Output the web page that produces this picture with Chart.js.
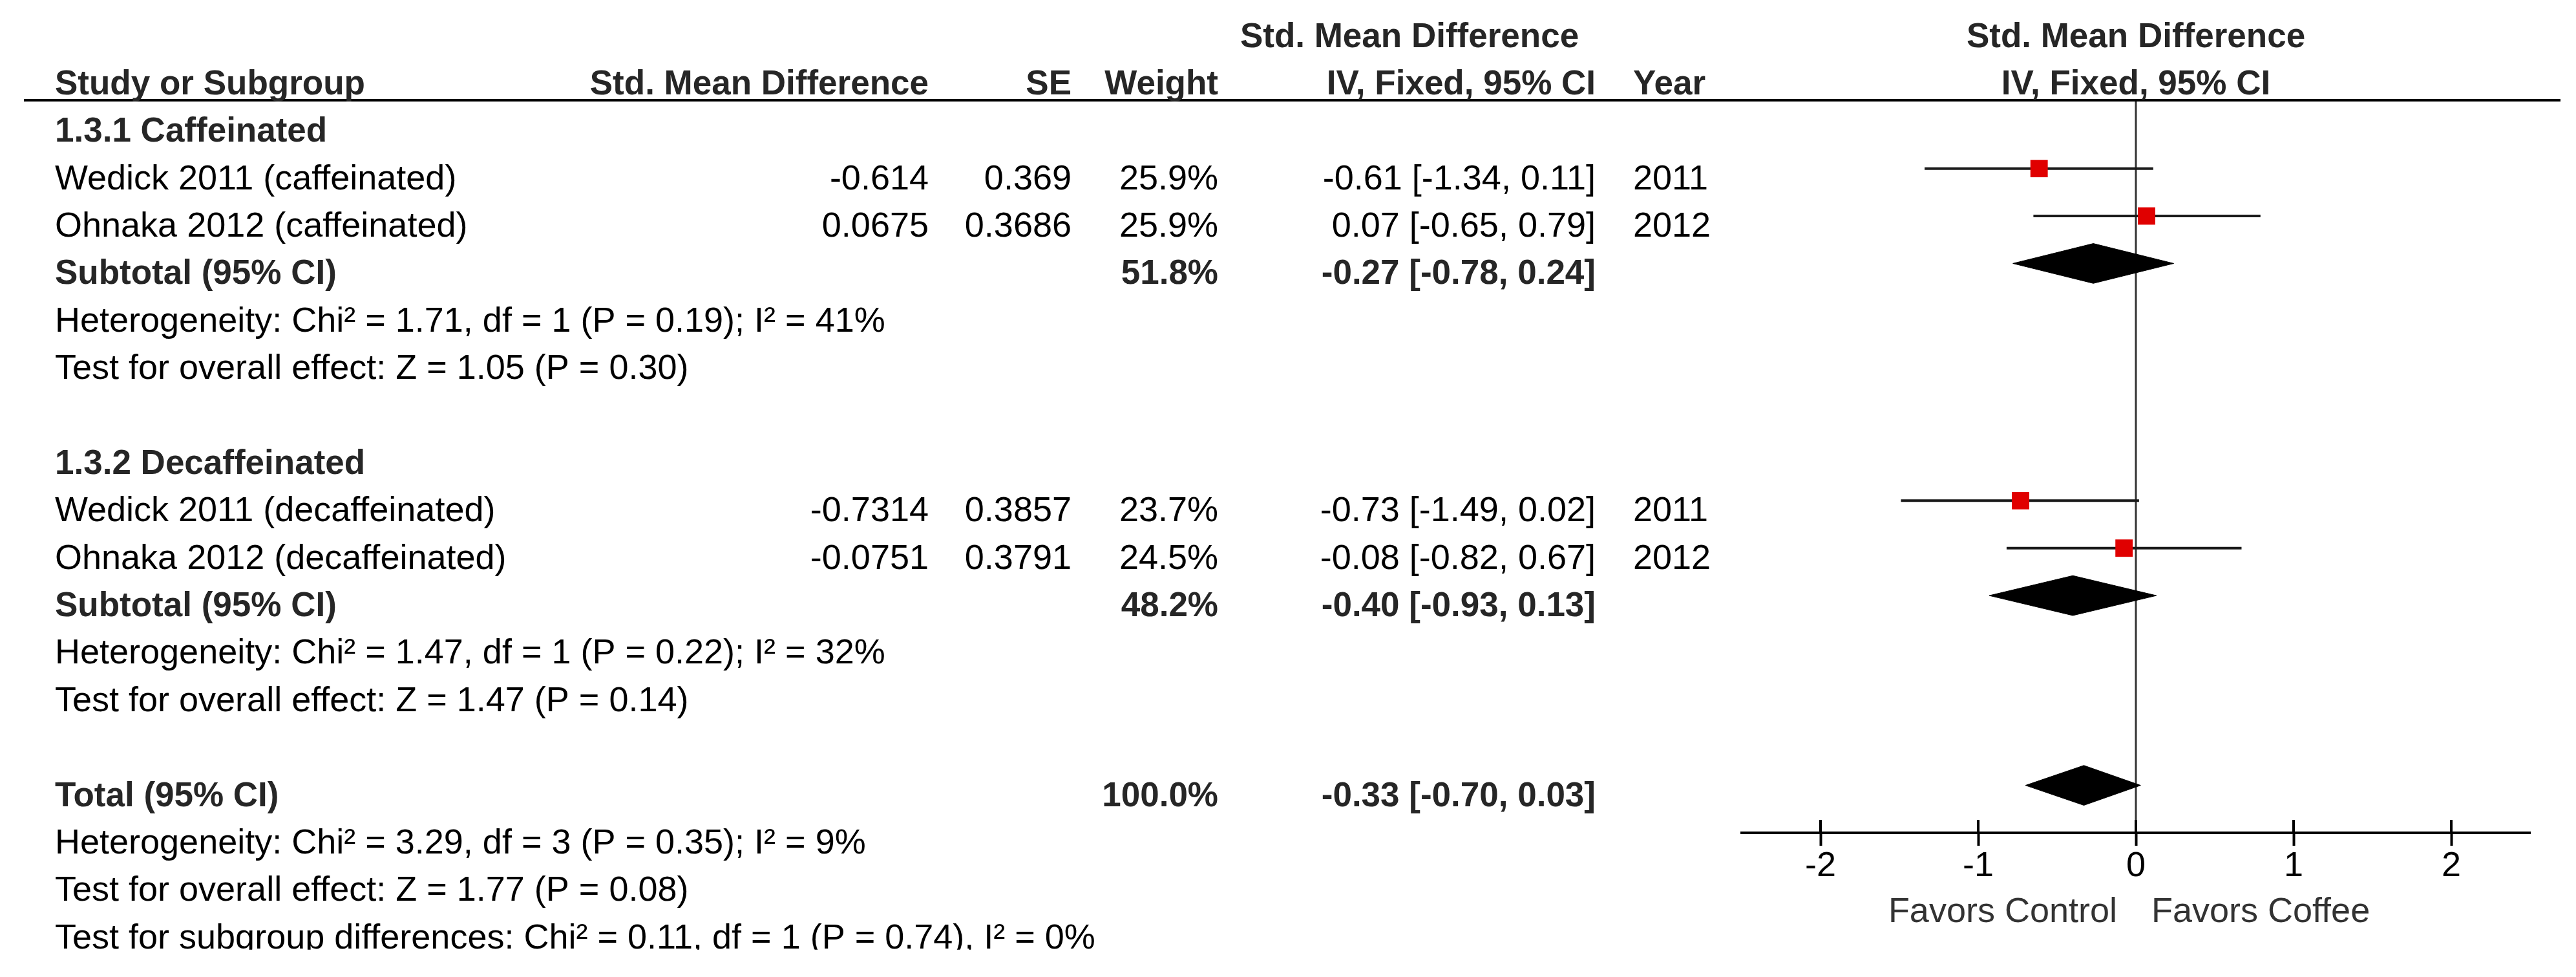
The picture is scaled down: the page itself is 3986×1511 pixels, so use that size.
<!DOCTYPE html>
<html>
<head>
<meta charset="utf-8">
<script src="https://cdn.jsdelivr.net/npm/chart.js@4.4.1/dist/chart.umd.min.js"></script>
<style>
  html, body { margin: 0; padding: 0; background: #fff; }
  canvas { display: block; }
</style>
</head>
<body>
<canvas id="forest" width="3986" height="1511"></canvas>
<script>
// values
const groupNames = ["1.3.1 Caffeinated", "1.3.2 Decaffeinated"];
const studyNames = ["Wedick 2011 (caffeinated)", "Ohnaka 2012 (caffeinated)", "Wedick 2011 (decaffeinated)", "Ohnaka 2012 (decaffeinated)"];
const studyGroup = [0, 0, 1, 1];
const smd = [-0.614, 0.0675, -0.7314, -0.0751];
const se = [0.369, 0.3686, 0.3857, 0.3791];
const weight = [25.9, 25.9, 23.7, 24.5];
const ciLow = [-1.34, -0.65, -1.49, -0.82];
const ciHigh = [0.11, 0.79, 0.02, 0.67];
const years = [2011, 2012, 2011, 2012];

const subWeight = [51.8, 48.2];
const subEst = [-0.27, -0.40];
const subLow = [-0.78, -0.93];
const subHigh = [0.24, 0.13];
const subHet = ["Heterogeneity: Chi² = 1.71, df = 1 (P = 0.19); I² = 41%", "Heterogeneity: Chi² = 1.47, df = 1 (P = 0.22); I² = 32%"];
const subTest = ["Test for overall effect: Z = 1.05 (P = 0.30)", "Test for overall effect: Z = 1.47 (P = 0.14)"];

const totalWeight = 100.0;
const totalEst = -0.33, totalLow = -0.70, totalHigh = 0.03;
const totalHet = "Heterogeneity: Chi² = 3.29, df = 3 (P = 0.35); I² = 9%";
const totalTest = "Test for overall effect: Z = 1.77 (P = 0.08)";
const subgroupTest = "Test for subgroup differences: Chi² = 0.11, df = 1 (P = 0.74), I² = 0%";

const xTicks = [-2, -1, 0, 1, 2];
const xMin = -2.5, xMax = 2.5;
const leftLabel = "Favors Control", rightLabel = "Favors Coffee";


const FONT = '"Liberation Sans", Arial, sans-serif';
const col = {
  study: { x: 85, align: "left" },
  smd: { x: 1437, align: "right" },
  se: { x: 1658, align: "right" },
  weight: { x: 1885, align: "right" },
  ci: { x: 2469, align: "right" },
  year: { x: 2527, align: "left" },
  ciTop: { x: 2181, align: "center" }
};

function fmtCI(e, l, h) {
  return e.toFixed(2) + " [" + l.toFixed(2) + ", " + h.toFixed(2) + "]";
}

// build the rows of the table (row number = y value on the chart)
const lines = [];
const studyRow = [], subRow = [];
lines.push({ row: -2, cells: [{ t: "Std. Mean Difference", c: "ciTop", b: true }, { t: "Std. Mean Difference", c: "plot", b: true }] });
lines.push({ row: -1, cells: [
  { t: "Study or Subgroup", c: "study", b: true },
  { t: "Std. Mean Difference", c: "smd", b: true },
  { t: "SE", c: "se", b: true },
  { t: "Weight", c: "weight", b: true },
  { t: "IV, Fixed, 95% CI", c: "ci", b: true },
  { t: "Year", c: "year", b: true },
  { t: "IV, Fixed, 95% CI", c: "plot", b: true }
] });

let r = 0;
groupNames.forEach((g, gi) => {
  lines.push({ row: r++, cells: [{ t: g, c: "study", b: true }] });
  smd.forEach((v, i) => {
    if (studyGroup[i] !== gi) return;
    studyRow[i] = r;
    lines.push({ row: r++, cells: [
      { t: studyNames[i], c: "study" },
      { t: String(v), c: "smd" },
      { t: String(se[i]), c: "se" },
      { t: weight[i].toFixed(1) + "%", c: "weight" },
      { t: fmtCI(v, ciLow[i], ciHigh[i]), c: "ci" },
      { t: String(years[i]), c: "year" }
    ] });
  });
  subRow[gi] = r;
  lines.push({ row: r++, cells: [
    { t: "Subtotal (95% CI)", c: "study", b: true },
    { t: subWeight[gi].toFixed(1) + "%", c: "weight", b: true },
    { t: fmtCI(subEst[gi], subLow[gi], subHigh[gi]), c: "ci", b: true }
  ] });
  lines.push({ row: r++, cells: [{ t: subHet[gi], c: "study" }] });
  lines.push({ row: r++, cells: [{ t: subTest[gi], c: "study" }] });
  r++;
});
const totalRow = r;
lines.push({ row: r++, cells: [
  { t: "Total (95% CI)", c: "study", b: true },
  { t: totalWeight.toFixed(1) + "%", c: "weight", b: true },
  { t: fmtCI(totalEst, totalLow, totalHigh), c: "ci", b: true }
] });
lines.push({ row: r++, cells: [{ t: totalHet, c: "study" }] });
lines.push({ row: r++, cells: [{ t: totalTest, c: "study" }] });
lines.push({ row: r++, cells: [{ t: subgroupTest, c: "study" }], clip: true });

const yMin = -0.44;
const yMax = totalRow + 1;   // the x axis sits one row under the total diamond
const diamondHalf = 0.42;    // half height of a diamond in rows

function diamond(e, l, h, row) {
  return [{ x: l, y: row }, { x: e, y: row - diamondHalf }, { x: h, y: row }, { x: e, y: row + diamondHalf }, { x: l, y: row }];
}

const datasets = [];
// red squares (drawn on top)
datasets.push({
  data: smd.map((v, i) => ({ x: v, y: studyRow[i] })),
  pointStyle: "rect",
  pointRadius: 19,
  pointHoverRadius: 19,
  backgroundColor: "#e00000",
  borderWidth: 0
});
// confidence intervals
smd.forEach((v, i) => {
  datasets.push({
    data: [{ x: ciLow[i], y: studyRow[i] }, { x: ciHigh[i], y: studyRow[i] }],
    showLine: true, borderColor: "#1a1a1a", borderWidth: 4, pointRadius: 0
  });
});
// diamonds
subEst.forEach((e, gi) => {
  datasets.push({
    data: diamond(e, subLow[gi], subHigh[gi], subRow[gi]),
    showLine: true, fill: "shape", backgroundColor: "#000", borderColor: "#000", borderWidth: 1, pointRadius: 0
  });
});
datasets.push({
  data: diamond(totalEst, totalLow, totalHigh, totalRow),
  showLine: true, fill: "shape", backgroundColor: "#000", borderColor: "#000", borderWidth: 1, pointRadius: 0
});
// line of no effect
datasets.push({
  data: [{ x: 0, y: yMin }, { x: 0, y: yMax }],
  showLine: true, borderColor: "#333", borderWidth: 3, pointRadius: 0
});

const tablePlugin = {
  id: "tablePlugin",
  afterDraw(chart) {
    const ctx = chart.ctx;
    const xs = chart.scales.x, ys = chart.scales.y;
    const area = chart.chartArea;
    const plotCenter = (area.left + area.right) / 2;

    ctx.save();
    // header rule
    ctx.strokeStyle = "#000";
    ctx.lineWidth = 4;
    ctx.beginPath();
    ctx.moveTo(37, area.top);
    ctx.lineTo(3962, area.top);
    ctx.stroke();

    // tick marks above the axis line
    ctx.lineWidth = 4;
    xTicks.forEach((v) => {
      const px = xs.getPixelForValue(v);
      ctx.beginPath();
      ctx.moveTo(px, area.bottom - 20);
      ctx.lineTo(px, area.bottom);
      ctx.stroke();
    });

    // table text
    ctx.textBaseline = "alphabetic";
    lines.forEach((line) => {
      const base = ys.getPixelForValue(line.row) + 32;
      ctx.save();
      if (line.clip) {
        ctx.beginPath();
        ctx.rect(0, 0, chart.width, base + 2);
        ctx.clip();
      }
      line.cells.forEach((cell) => {
        const c = cell.c === "plot" ? { x: plotCenter, align: "center" } : col[cell.c];
        ctx.font = (cell.b ? "bold 53px " : "54px ") + FONT;
        ctx.fillStyle = cell.b ? "#262626" : "#000";
        ctx.textAlign = c.align;
        ctx.fillText(cell.t, c.x, base);
      });
      ctx.restore();
    });

    // favours labels under the axis
    const zero = xs.getPixelForValue(0);
    ctx.font = "54px " + FONT;
    ctx.fillStyle = "#333";
    ctx.textAlign = "right";
    ctx.fillText(leftLabel, zero - 29, area.bottom + 138);
    ctx.textAlign = "left";
    ctx.fillText(rightLabel, zero + 24, area.bottom + 138);
    ctx.restore();
  }
};

new Chart(document.getElementById("forest"), {
  type: "scatter",
  data: { datasets },
  options: {
    responsive: false,
    animation: false,
    devicePixelRatio: 1,
    layout: { padding: { left: 2695, right: 71, top: 155, bottom: 0 } },
    plugins: { legend: { display: false }, tooltip: { enabled: false } },
    scales: {
      x: {
        type: "linear",
        min: xMin,
        max: xMax,
        afterBuildTicks: (s) => { s.ticks = xTicks.map((v) => ({ value: v })); },
        afterFit: (s) => { s.height = 223; },   // puts the axis line at y = 1288
        grid: { drawOnChartArea: false, drawTicks: true, tickLength: 20, tickWidth: 4, tickColor: "#000" },
        border: { display: true, width: 4, color: "#000" },
        ticks: { color: "#000", font: { family: FONT, size: 54 }, padding: 0, maxRotation: 0, autoSkip: false }
      },
      y: { type: "linear", display: false, reverse: true, min: yMin, max: yMax }
    }
  },
  plugins: [tablePlugin]
});
</script>
</body>
</html>
